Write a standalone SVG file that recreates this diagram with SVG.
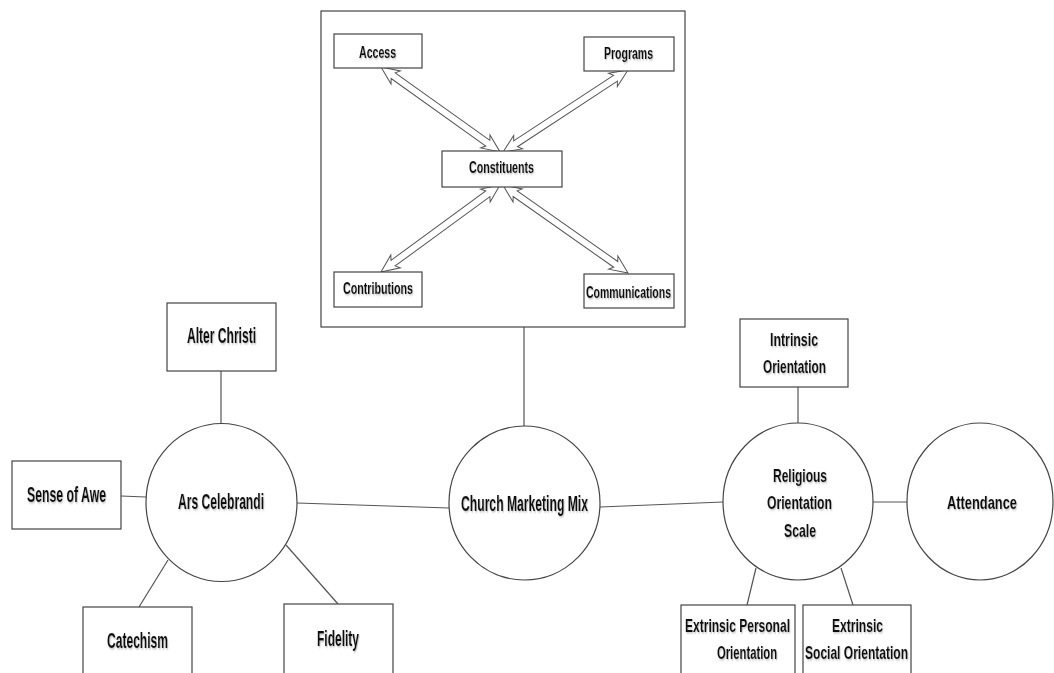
<svg xmlns="http://www.w3.org/2000/svg" width="1054" height="673" viewBox="0 0 1054 673">
<style>
.box{fill:#fff;stroke:#444;stroke-width:1.2}
.circ{fill:#fff;stroke:#444;stroke-width:1.2}
.ln{stroke:#555;stroke-width:1.2;fill:none}
.arr{fill:#fff;stroke:#555;stroke-width:1}
text{font-family:"Liberation Sans",Arial,sans-serif;font-weight:bold;fill:#111;text-anchor:middle;filter:url(#sh)}
.l{font-size:22px}
.r{font-size:18.5px}
.i{font-size:16px}
</style>
<defs>
<filter id="sh" x="-10%" y="-30%" width="120%" height="160%">
<feDropShadow dx="1.2" dy="1.2" stdDeviation="1" flood-color="#888" flood-opacity="0.6"/>
</filter>
</defs>
<g id="connectors">
<line class="ln" x1="524" y1="327" x2="524" y2="427"/>
<line class="ln" x1="221" y1="371" x2="221" y2="424"/>
<line class="ln" x1="121" y1="496" x2="146" y2="497"/>
<line class="ln" x1="139" y1="607" x2="168" y2="560"/>
<line class="ln" x1="338" y1="604" x2="286" y2="545"/>
<line class="ln" x1="297" y1="503" x2="449" y2="508"/>
<line class="ln" x1="600" y1="507" x2="723" y2="502"/>
<line class="ln" x1="873" y1="502" x2="907" y2="502"/>
<line class="ln" x1="798" y1="387" x2="798" y2="423"/>
<line class="ln" x1="756" y1="568" x2="747" y2="605"/>
<line class="ln" x1="841" y1="568" x2="853" y2="605"/>
</g>
<g id="marketing-mix-frame">
<rect class="box" x="321" y="11" width="364" height="316"/>
</g>
<g id="inner-arrows">
<polygon class="arr" transform="translate(381,67) rotate(35.5)" points="0,0 18,8 15,3.5 131.2,3.5 128.2,8 146.2,0 128.2,-8 131.2,-3.5 15,-3.5 18,-8"/>
<polygon class="arr" transform="translate(628,70) rotate(146.7)" points="0,0 18,8 15,3.5 134.5,3.5 131.5,8 149.5,0 131.5,-8 134.5,-3.5 15,-3.5 18,-8"/>
<polygon class="arr" transform="translate(381,272) rotate(-36.2)" points="0,0 18,8 15,3.5 132.4,3.5 129.4,8 147.4,0 129.4,-8 132.4,-3.5 15,-3.5 18,-8"/>
<polygon class="arr" transform="translate(628,273) rotate(-144.9)" points="0,0 18,8 15,3.5 137.9,3.5 134.9,8 152.9,0 134.9,-8 137.9,-3.5 15,-3.5 18,-8"/>
</g>
<g id="access"><rect class="box" x="334" y="34" width="88" height="34"/><text class="i" transform="translate(377.5,58) scale(0.62,1)" x="0" y="0" textLength="59.7" lengthAdjust="spacingAndGlyphs">Access</text></g>
<g id="programs"><rect class="box" x="584" y="37" width="90" height="34"/><text class="i" transform="translate(628.5,59) scale(0.62,1)" x="0" y="0" textLength="79" lengthAdjust="spacingAndGlyphs">Programs</text></g>
<g id="constituents"><rect class="box" x="442" y="151" width="120" height="36"/><text class="i" transform="translate(501.5,173) scale(0.62,1)" x="0" y="0" textLength="104.8" lengthAdjust="spacingAndGlyphs">Constituents</text></g>
<g id="contributions"><rect class="box" x="334" y="272" width="88" height="35"/><text class="i" transform="translate(378,294) scale(0.62,1)" x="0" y="0" textLength="112.9" lengthAdjust="spacingAndGlyphs">Contributions</text></g>
<g id="communications"><rect class="box" x="584" y="274" width="90" height="34"/><text class="i" transform="translate(628.5,298) scale(0.62,1)" x="0" y="0" textLength="137.1" lengthAdjust="spacingAndGlyphs">Communications</text></g>
<g id="church-marketing-mix"><ellipse class="circ" cx="524.5" cy="503" rx="75.5" ry="77"/><text class="l" transform="translate(524.5,511) scale(0.62,1)" x="0" y="0" textLength="204.8" lengthAdjust="spacingAndGlyphs">Church Marketing Mix</text></g>
<g id="ars-celebrandi"><ellipse class="circ" cx="221.5" cy="502.5" rx="75.5" ry="79"/><text class="l" transform="translate(221,509) scale(0.62,1)" x="0" y="0" textLength="138.7" lengthAdjust="spacingAndGlyphs">Ars Celebrandi</text></g>
<g id="alter-christi"><rect class="box" x="167" y="303" width="109" height="68"/><text class="l" transform="translate(221.5,343) scale(0.62,1)" x="0" y="0" textLength="111.3" lengthAdjust="spacingAndGlyphs">Alter Christi</text></g>
<g id="sense-of-awe"><rect class="box" x="12" y="461" width="109" height="68"/><text class="l" transform="translate(66.5,502) scale(0.62,1)" x="0" y="0" textLength="127.4" lengthAdjust="spacingAndGlyphs">Sense of Awe</text></g>
<g id="catechism"><rect class="box" x="83" y="607" width="109" height="80"/><text class="l" transform="translate(137.5,648) scale(0.62,1)" x="0" y="0" textLength="98.4" lengthAdjust="spacingAndGlyphs">Catechism</text></g>
<g id="fidelity"><rect class="box" x="284" y="604" width="109" height="80"/><text class="l" transform="translate(338,646) scale(0.62,1)" x="0" y="0" textLength="67.7" lengthAdjust="spacingAndGlyphs">Fidelity</text></g>
<g id="religious-orientation-scale"><ellipse class="circ" cx="798" cy="501.5" rx="75" ry="78.5"/><text class="r" transform="translate(800,482) scale(0.62,1)" x="0" y="0" textLength="87.1" lengthAdjust="spacingAndGlyphs">Religious</text><text class="r" transform="translate(799.5,509) scale(0.62,1)" x="0" y="0" textLength="104.8" lengthAdjust="spacingAndGlyphs">Orientation</text><text class="r" transform="translate(800,537) scale(0.62,1)" x="0" y="0" textLength="51.6" lengthAdjust="spacingAndGlyphs">Scale</text></g>
<g id="attendance"><ellipse class="circ" cx="980" cy="501.5" rx="73" ry="78.5"/><text class="r" transform="translate(982,509) scale(0.62,1)" x="0" y="0" textLength="112.9" lengthAdjust="spacingAndGlyphs">Attendance</text></g>
<g id="intrinsic-orientation"><rect class="box" x="740" y="319" width="108" height="68"/><text class="r" transform="translate(794,346) scale(0.62,1)" x="0" y="0" textLength="77.4" lengthAdjust="spacingAndGlyphs">Intrinsic</text><text class="r" transform="translate(794.5,373) scale(0.62,1)" x="0" y="0" textLength="101.6" lengthAdjust="spacingAndGlyphs">Orientation</text></g>
<g id="extrinsic-personal"><rect class="box" x="681" y="605" width="114" height="80"/><text class="r" transform="translate(737.5,632) scale(0.62,1)" x="0" y="0" textLength="169.4" lengthAdjust="spacingAndGlyphs">Extrinsic Personal</text><text class="r" transform="translate(747,659) scale(0.62,1)" x="0" y="0" textLength="96.8" lengthAdjust="spacingAndGlyphs">Orientation</text></g>
<g id="extrinsic-social"><rect class="box" x="803" y="605" width="108" height="80"/><text class="r" transform="translate(857.5,632) scale(0.62,1)" x="0" y="0" textLength="82.3" lengthAdjust="spacingAndGlyphs">Extrinsic</text><text class="r" transform="translate(856.5,659) scale(0.62,1)" x="0" y="0" textLength="166.1" lengthAdjust="spacingAndGlyphs">Social Orientation</text></g>
</svg>
